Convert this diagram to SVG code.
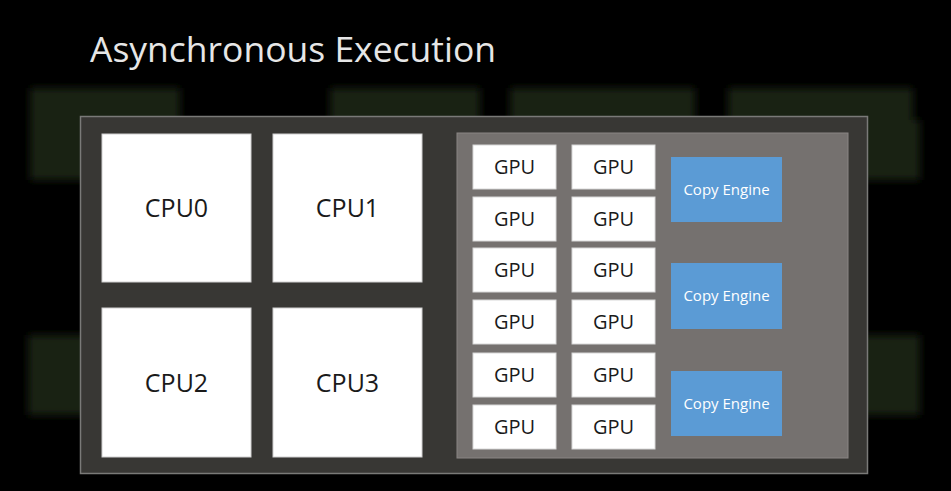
<svg xmlns="http://www.w3.org/2000/svg" width="951" height="491" viewBox="0 0 951 491">
<defs>
<filter id="blur" x="-20%" y="-20%" width="140%" height="140%"><feGaussianBlur stdDeviation="4"/></filter>
<style>
.title{font-family:"Open Sans","Liberation Sans",sans-serif;font-size:35px;fill:#e6e6e6;font-weight:400}
.cpu rect{fill:#ffffff;stroke:#d0d0d0;stroke-width:1}
.cpu text{font-family:"Open Sans","Liberation Sans",sans-serif;font-size:25px;fill:#1a1a1a;text-anchor:middle}
.gpu rect{fill:#ffffff;stroke:#d8d8d8;stroke-width:1}
.gpu text{font-family:"Open Sans","Liberation Sans",sans-serif;font-size:20px;fill:#1a1a1a;text-anchor:middle}
.ce rect{fill:#5b9bd5}
.ce text{font-family:"Open Sans","Liberation Sans",sans-serif;font-size:15px;fill:#ffffff;text-anchor:middle}
.bg{fill:#1f2613}
</style>
</defs>
<rect x="0" y="0" width="951" height="491" fill="#000000"/>
<g id="background" filter="url(#blur)" opacity="0.9">
<rect class="bg" x="30" y="88" width="150" height="40"/>
<rect class="bg" x="330" y="88" width="150" height="40"/>
<rect class="bg" x="510" y="88" width="185" height="40"/>
<rect class="bg" x="728" y="88" width="185" height="40"/>
<rect class="bg" x="30" y="120" width="60" height="60"/>
<rect class="bg" x="860" y="120" width="60" height="60"/>
<rect class="bg" x="28" y="335" width="60" height="80"/>
<rect class="bg" x="860" y="335" width="60" height="80"/>
</g>
<text class="title" x="90" y="62" textLength="406" lengthAdjust="spacingAndGlyphs">Asynchronous Execution</text>
<g id="system">
<rect x="80.5" y="116.5" width="787" height="357" fill="#383734" stroke="#7a7a78" stroke-width="1.5"/>
</g>
<g id="cpu0" class="cpu"><rect x="102" y="134" width="149" height="148"/><text x="176.5" y="217">CPU0</text></g>
<g id="cpu1" class="cpu"><rect x="273" y="134" width="149" height="148"/><text x="347.5" y="217">CPU1</text></g>
<g id="cpu2" class="cpu"><rect x="102" y="308" width="149" height="149"/><text x="176.5" y="392">CPU2</text></g>
<g id="cpu3" class="cpu"><rect x="273" y="308" width="149" height="149"/><text x="347.5" y="392">CPU3</text></g>
<g id="gpu-panel">
<rect x="457" y="133" width="391" height="325" fill="#75716f" stroke="#8a8684" stroke-width="1"/>
</g>
<g id="gpu-1" class="gpu"><rect x="473" y="145" width="83" height="44"/><text x="514.5" y="174">GPU</text></g>
<g id="gpu-2" class="gpu"><rect x="572" y="145" width="83" height="44"/><text x="613.5" y="174">GPU</text></g>
<g id="gpu-3" class="gpu"><rect x="473" y="197" width="83" height="44"/><text x="514.5" y="226">GPU</text></g>
<g id="gpu-4" class="gpu"><rect x="572" y="197" width="83" height="44"/><text x="613.5" y="226">GPU</text></g>
<g id="gpu-5" class="gpu"><rect x="473" y="248" width="83" height="44"/><text x="514.5" y="277">GPU</text></g>
<g id="gpu-6" class="gpu"><rect x="572" y="248" width="83" height="44"/><text x="613.5" y="277">GPU</text></g>
<g id="gpu-7" class="gpu"><rect x="473" y="300" width="83" height="44"/><text x="514.5" y="329">GPU</text></g>
<g id="gpu-8" class="gpu"><rect x="572" y="300" width="83" height="44"/><text x="613.5" y="329">GPU</text></g>
<g id="gpu-9" class="gpu"><rect x="473" y="353" width="83" height="44"/><text x="514.5" y="382">GPU</text></g>
<g id="gpu-10" class="gpu"><rect x="572" y="353" width="83" height="44"/><text x="613.5" y="382">GPU</text></g>
<g id="gpu-11" class="gpu"><rect x="473" y="405" width="83" height="44"/><text x="514.5" y="434">GPU</text></g>
<g id="gpu-12" class="gpu"><rect x="572" y="405" width="83" height="44"/><text x="613.5" y="434">GPU</text></g>
<g id="copy-engine-1" class="ce"><rect x="671" y="157" width="111" height="65"/><text x="726.5" y="195">Copy Engine</text></g>
<g id="copy-engine-2" class="ce"><rect x="671" y="263" width="111" height="66"/><text x="726.5" y="301">Copy Engine</text></g>
<g id="copy-engine-3" class="ce"><rect x="671" y="371" width="111" height="65"/><text x="726.5" y="409">Copy Engine</text></g>
<g id="connectors"></g>
</svg>
